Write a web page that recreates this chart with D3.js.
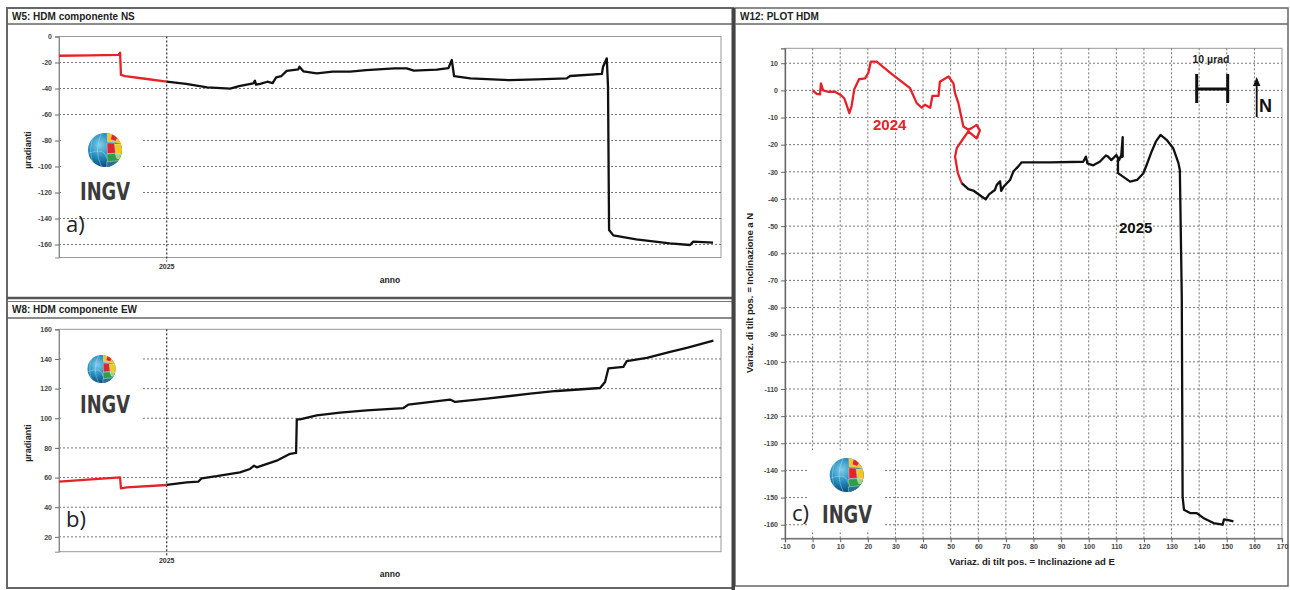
<!DOCTYPE html>
<html>
<head>
<meta charset="utf-8">
<script src="https://cdn.jsdelivr.net/npm/d3@7"></script>
<style>
  body { margin: 0; background: #fff; }
  svg text { font-family: "Liberation Sans", Arial, sans-serif; }
</style>
</head>
<body>
<svg id="chart" width="1290" height="590"></svg>
<script>
// series start: 1 Nov 2024, x values are days after that date
const T0 = new Date(2024, 10, 1)
const lastDay = 375
const yearTick = new Date(2025, 0, 1)

// W5: NS component (µrad)
const nsRed = [[0,-14.8],[17.6,-14.5],[33.6,-14.2],[34.6,-12.4],[35.1,-29.5],[37.4,-30.4],[48.7,-32.5],[61,-34.7]]
const nsBlack = [[61,-34.7],[72,-36.5],[84,-39.1],[97,-40.1],[102,-38.1],[110,-36],[111,-34],[111.6,-37],[114,-36.5],
  [118,-34.8],[121,-35.8],[123,-31.4],[126,-30.4],[129,-26.5],[135.6,-25.3],[136.2,-23.2],[138.4,-26.8],[146,-28.3],
  [155,-27],[165,-27],[174,-25.8],[190,-24.5],[197,-24.5],[201,-26.3],[214,-25.5],[220.6,-24.3],[222.5,-18.1],
  [223.8,-30.4],[233,-32.2],[255,-33.5],[271,-33],[287.6,-32.2],[289.5,-30.4],[307.5,-28.8],[308.2,-23.2],
  [310.3,-16.8],[311,-38.6],[311.6,-148.8],[314,-153],[327,-156],[346,-159.1],[357.5,-160.4],[359.2,-157.8],[370.5,-158.6]]

// W8: EW component (µrad)
const ewRed = [[0,57.2],[34.6,60.1],[35.1,52.7],[38.4,53.4],[61,55]]
const ewBlack = [[61,55],[72.4,56.8],[78.9,57.2],[80.8,59.5],[89.3,60.9],[102.5,63.5],[108.2,65.8],[110.5,68],[112,66.9],
  [123.3,71.4],[130.9,76],[134.3,76.6],[134.7,99.2],[136.5,99.2],[146,102],[159.2,103.8],[174.3,105.3],[195.1,106.9],
  [197.9,109.2],[221.5,112.6],[224.4,111],[242.3,113.2],[266.9,116.6],[282,118.4],[306.5,120.4],[309.3,124.5],
  [311.2,133.6],[319.7,134.7],[321.6,138.5],[333,140.8],[346.2,144.8],[355.6,147.5],[370.7,152.3]]

// W12: tilt vector path [E, N] (µrad)
const xy2024 = [[0,0],[1.5,-1.3],[2.7,-1.5],[3,2.6],[3.8,0],[5.6,-0.5],[8.1,-0.5],[10.3,-1.8],[11.5,-3],[12.3,-5.3],
  [13.3,-8.4],[14.1,-5.9],[15.1,0.4],[16.8,4.1],[19,4.4],[20.2,6.5],[21.1,10.6],[23.2,10.6],[28.6,6.1],[35.3,0.8],
  [37.7,-4.7],[39.5,-6.4],[40.7,-5.3],[42.6,-6.4],[43.4,-2],[45.6,-2],[46.1,3.2],[49.2,5.1],[51,2.6],[51.6,-1.1],
  [52.8,-4.7],[54.6,-13.3],[56.4,-14.5],[57.6,-13.9],[59.4,-12.7],[60.6,-14.8],[59.4,-17.7],[56.4,-15.1],[54.4,-18],
  [52.2,-21.3],[51.6,-24.4],[52.6,-30.5],[54,-34.2]]
const xy2025 = [[54,-34.2],[56.4,-36.4],[58.2,-36.9],[61.2,-39.1],[62.7,-40.1],[63.9,-38.3],[66,-36.7],[66.7,-34.8],
  [67.9,-33.5],[68.3,-37],[69.3,-35.3],[71.5,-33],[72.7,-29.9],[74.5,-28],[75.7,-26.5],[86,-26.5],[98,-26.3],[99,-24.4],
  [99.5,-26.9],[101.6,-27.6],[104,-26.3],[106.2,-24],[107,-24.4],[108.2,-25.7],[110,-23.8],[111,-25.7],[111.8,-23.8],
  [112.3,-17.2],[112.3,-24.4],[110.6,-25],[110.6,-30.5],[115,-33.6],[117.5,-33],[119.8,-30.5],[121,-27.4],[122.8,-22.5],
  [124.3,-18.9],[126,-16.4],[128.2,-18.2],[130.6,-21.3],[132.5,-26.8],[133,-29.3],[133.7,-76],[134,-149.6],[134.5,-154.5],
  [136.7,-155.7],[139.1,-155.7],[141.5,-157.5],[145.2,-159.4],[148.5,-160],[149,-158],[150.6,-158.3],[152.4,-158.8]]

const nsTicks = d3.range(-160, 1, 20)
const ewTicks = d3.range(20, 161, 20)
const eTicks = d3.range(-10, 171, 10)
const nTicks = d3.range(-160, 11, 10)

const RED = "#e5222a", BLACK = "#111"
const plain = function(d) { return String(d) }   // hyphen minus like the original

function dayToDate(d) { return new Date(T0.getTime() + d * 864e5) }

var svg = d3.select("#chart")
var defs = svg.append("defs")

// globe gradient
var grad = defs.append("radialGradient").attr("id", "globeGrad").attr("cx", "35%").attr("cy", "35%").attr("r", "70%")
grad.append("stop").attr("offset", "0%").attr("stop-color", "#7fd0ea")
grad.append("stop").attr("offset", "55%").attr("stop-color", "#1f87b9")
grad.append("stop").attr("offset", "100%").attr("stop-color", "#0a4470")

// ---------- frames ----------
var frame = svg.append("g")
frame.append("rect").attr("x", 7).attr("y", 8).attr("width", 726).attr("height", 580)
  .attr("fill", "none").attr("stroke", "#666").attr("stroke-width", 2)
frame.append("line").attr("x1", 7).attr("x2", 733).attr("y1", 24).attr("y2", 24).attr("stroke", "#666").attr("stroke-width", 1.5)
frame.append("line").attr("x1", 7).attr("x2", 733).attr("y1", 298).attr("y2", 298).attr("stroke", "#555").attr("stroke-width", 2.5)
frame.append("line").attr("x1", 7).attr("x2", 733).attr("y1", 301.5).attr("y2", 301.5).attr("stroke", "#777").attr("stroke-width", 1)
frame.append("line").attr("x1", 7).attr("x2", 733).attr("y1", 318).attr("y2", 318).attr("stroke", "#666").attr("stroke-width", 1.5)
frame.append("rect").attr("x", 735).attr("y", 8).attr("width", 553).attr("height", 578)
  .attr("fill", "none").attr("stroke", "#666").attr("stroke-width", 1.5)
frame.append("line").attr("x1", 735).attr("x2", 1288).attr("y1", 24).attr("y2", 24).attr("stroke", "#666").attr("stroke-width", 1.5)
frame.append("rect").attr("x", 731.5).attr("y", 8).attr("width", 3.5).attr("height", 582).attr("fill", "#444")

frame.append("text").attr("x", 12).attr("y", 20).text("W5: HDM componente NS")
  .style("font-size", "10px").style("font-weight", "bold").attr("fill", "#222")
frame.append("text").attr("x", 12).attr("y", 313).text("W8: HDM componente EW")
  .style("font-size", "10px").style("font-weight", "bold").attr("fill", "#222")
frame.append("text").attr("x", 740).attr("y", 20).text("W12: PLOT HDM")
  .style("font-size", "10px").style("font-weight", "bold").attr("fill", "#222")

// ---------- logo ----------
function globe(g, cx, cy, r, id) {
  defs.append("clipPath").attr("id", id).append("circle").attr("cx", cx).attr("cy", cy).attr("r", r)
  g.append("circle").attr("cx", cx).attr("cy", cy).attr("r", r).attr("fill", "url(#globeGrad)")
  var cg = g.append("g").attr("clip-path", "url(#" + id + ")")
  var patches = [
    ["#f2c81a", [[0.12,-1.1],[0.8,-1.1],[1.1,-0.35],[0.55,-0.45],[0.15,-0.5]]],
    ["#e0262c", [[0.42,-0.98],[0.78,-0.78],[0.62,-0.52],[0.32,-0.62]]],
    ["#e0262c", [[0.12,-0.42],[0.55,-0.4],[0.62,0.18],[0.14,0.22]]],
    ["#f2c81a", [[0.58,-0.35],[1.1,-0.35],[1.1,0.28],[0.64,0.2]]],
    ["#2f9e48", [[0.1,0.24],[0.68,0.2],[1.1,0.3],[1.1,1.1],[0.2,1.1]]],
    ["#9fd37a", [[0.6,0.22],[1.1,0.3],[1.1,0.55],[0.7,0.5]]],
    ["#2a6f9c", [[0.1,0.7],[1.1,0.6],[1.1,1.1],[0.1,1.1]]]
  ]
  patches.forEach(function(p) {
    cg.append("path")
      .attr("d", "M" + p[1].map(function(q) { return [cx + q[0] * r, cy + q[1] * r].join(",") }).join("L") + "Z")
      .attr("fill", p[0]).attr("stroke", "#fff").attr("stroke-width", 0.5).attr("stroke-opacity", 0.7)
  })
  // meridians on the blue part
  ;[-0.6, -0.2].forEach(function(k) {
    cg.append("path")
      .attr("d", "M" + (cx + k * r) + "," + (cy - r) + " Q" + (cx + (k - 0.5) * r) + "," + cy + " " + (cx + k * r) + "," + (cy + r))
      .attr("fill", "none").attr("stroke", "#cfefff").attr("stroke-width", 0.6).attr("stroke-opacity", 0.6)
  })
  cg.append("path").attr("d", "M" + (cx - r) + "," + (cy + 0.2 * r) + " Q" + cx + "," + (cy - 0.2 * r) + " " + (cx + 0.1 * r) + "," + (cy + 0.5 * r))
    .attr("fill", "none").attr("stroke", "#cfefff").attr("stroke-width", 0.6).attr("stroke-opacity", 0.6)
}

function ingv(g, x, y, w) {
  g.append("text").attr("x", x).attr("y", y).text("INGV")
    .attr("textLength", w).attr("lengthAdjust", "spacingAndGlyphs")
    .style("font-family", "'Liberation Sans Narrow','DejaVu Sans Condensed',sans-serif")
    .style("font-size", "25px").style("font-weight", "bold").attr("fill", "#3b3b3b")
}

function letter(g, x, y, t) {
  g.append("text").attr("x", x).attr("y", y).text(t)
    .style("font-family", "'Open Sans','DejaVu Sans',sans-serif").style("font-size", "22px").attr("fill", "#222")
}

// ---------- time panels ----------
var xT = d3.scaleTime().domain([T0, dayToDate(lastDay)]).range([59, 721])

function timePanel(opt) {
  var g = svg.append("g")
  var y = d3.scaleLinear().domain(opt.domain).range([opt.bottom, opt.top])

  g.append("rect").attr("x", 59).attr("y", opt.top).attr("width", 662).attr("height", opt.bottom - opt.top)
    .attr("fill", "#fff").attr("stroke", "#999").attr("stroke-width", 1)

  g.selectAll(".grid").data(opt.grid).enter().append("line")
    .attr("x1", 59).attr("x2", 721)
    .attr("y1", function(d) { return y(d) }).attr("y2", function(d) { return y(d) })
    .attr("stroke", "#777").attr("stroke-dasharray", "2,2").attr("stroke-width", 1)

  // white box behind logo
  g.append("rect").attr("x", opt.box[0]).attr("y", opt.box[1]).attr("width", opt.box[2]).attr("height", opt.box[3]).attr("fill", "#fff")

  var ax = g.append("g").attr("transform", "translate(59,0)")
    .call(d3.axisLeft(y).tickValues(opt.ticks).tickSize(4).tickPadding(3).tickFormat(plain))
  ax.select(".domain").attr("stroke", "#888")
  ax.selectAll(".tick line").attr("stroke", "#666")
  ax.selectAll("text").style("font-size", "7px").style("font-weight", "bold").attr("fill", "#444")
    .style("font-family", "'Liberation Sans',Arial,sans-serif")

  // year line
  g.append("line").attr("x1", xT(yearTick)).attr("x2", xT(yearTick)).attr("y1", opt.top).attr("y2", opt.bottom + 4)
    .attr("stroke", "#333").attr("stroke-dasharray", "2,2").attr("stroke-width", 1.2)
  g.append("text").attr("x", xT(yearTick)).attr("y", opt.bottom + 11).attr("text-anchor", "middle").text(d3.timeFormat("%Y")(yearTick))
    .style("font-size", "7px").style("font-weight", "bold").attr("fill", "#333")

  g.append("text").attr("x", 390).attr("y", opt.bottom + 25).attr("text-anchor", "middle").text("anno")
    .style("font-size", "8.5px").style("font-weight", "bold").attr("fill", "#222")
  g.append("text").attr("transform", "translate(31," + opt.labelY + ") rotate(-90)").attr("text-anchor", "middle").text("µradianti")
    .style("font-size", "9px").style("font-weight", "bold").attr("fill", "#222")

  var line = d3.line().x(function(d) { return xT(dayToDate(d[0])) }).y(function(d) { return y(d[1]) })
  g.append("path").datum(opt.red).attr("d", line).attr("fill", "none").attr("stroke", RED).attr("stroke-width", 2.3).attr("stroke-linejoin", "round")
  g.append("path").datum(opt.black).attr("d", line).attr("fill", "none").attr("stroke", BLACK).attr("stroke-width", 2.3).attr("stroke-linejoin", "round")

  globe(g, opt.globe[0], opt.globe[1], opt.globe[2], opt.id)
  ingv(g, 80, opt.ingvY, 50)
  letter(g, 66, opt.letterY, opt.letter)
}

timePanel({ domain: [-170, 0], top: 36.5, bottom: 257.5, ticks: nsTicks, grid: nsTicks.filter(function(d) { return d < 0 }),
  red: nsRed, black: nsBlack, box: [62, 126, 81, 80], globe: [105, 150, 17], ingvY: 200, letter: "a)", letterY: 232,
  labelY: 150, id: "clipA" })
timePanel({ domain: [10, 160], top: 329.3, bottom: 551.7, ticks: ewTicks, grid: ewTicks.filter(function(d) { return d < 160 }),
  red: ewRed, black: ewBlack, box: [62, 338, 81, 84], globe: [101.5, 369, 14], ingvY: 413, letter: "b)", letterY: 527,
  labelY: 443, id: "clipB" })

// ---------- XY plot ----------
var xE = d3.scaleLinear().domain([-10, 170]).range([785, 1282])
var yN = d3.scaleLinear().domain([-165, 15.5]).range([538.3, 48.3])
var gc = svg.append("g")

gc.append("rect").attr("x", 785).attr("y", 48.3).attr("width", 497).attr("height", 490)
  .attr("fill", "#fff").attr("stroke", "#999").attr("stroke-width", 1)
gc.selectAll(".hg").data(nTicks).enter().append("line")
  .attr("x1", 785).attr("x2", 1282).attr("y1", function(d) { return yN(d) }).attr("y2", function(d) { return yN(d) })
  .attr("stroke", "#777").attr("stroke-dasharray", "2,2")
gc.selectAll(".vg").data(eTicks.filter(function(d) { return d > -10 && d < 170 })).enter().append("line")
  .attr("y1", 48.3).attr("y2", 538.3).attr("x1", function(d) { return xE(d) }).attr("x2", function(d) { return xE(d) })
  .attr("stroke", "#777").attr("stroke-dasharray", "2,2")

gc.append("rect").attr("x", 807).attr("y", 450).attr("width", 78).attr("height", 80).attr("fill", "#fff")

var axL = gc.append("g").attr("transform", "translate(785,0)")
  .call(d3.axisLeft(yN).tickValues(nTicks).tickSize(4).tickPadding(3).tickFormat(plain))
var axB = gc.append("g").attr("transform", "translate(0,538.3)")
  .call(d3.axisBottom(xE).tickValues(eTicks).tickSize(4).tickPadding(2).tickFormat(plain))
;[axL, axB].forEach(function(a) {
  a.select(".domain").attr("stroke", "#666").attr("stroke-width", 1.3)
  a.selectAll(".tick line").attr("stroke", "#666")
  a.selectAll("text").style("font-size", "7px").style("font-weight", "bold").attr("fill", "#444")
    .style("font-family", "'Liberation Sans',Arial,sans-serif")
})

gc.append("text").attr("x", 1032).attr("y", 565).attr("text-anchor", "middle")
  .text("Variaz. di tilt pos. = Inclinazione ad E")
  .style("font-size", "9.5px").style("font-weight", "bold").attr("fill", "#222")
gc.append("text").attr("transform", "translate(753,293) rotate(-90)").attr("text-anchor", "middle")
  .text("Variaz. di tilt pos. = Inclinazione a N")
  .style("font-size", "9.5px").style("font-weight", "bold").attr("fill", "#222")

var xyLine = d3.line().x(function(d) { return xE(d[0]) }).y(function(d) { return yN(d[1]) })
gc.append("path").datum(xy2024).attr("d", xyLine).attr("fill", "none").attr("stroke", RED).attr("stroke-width", 2.3).attr("stroke-linejoin", "round")
gc.append("path").datum(xy2025).attr("d", xyLine).attr("fill", "none").attr("stroke", BLACK).attr("stroke-width", 2.3).attr("stroke-linejoin", "round")

gc.append("text").attr("x", 873).attr("y", 130).text("2024")
  .style("font-size", "15px").style("font-weight", "bold").attr("fill", RED)
gc.append("text").attr("x", 1119).attr("y", 233).text("2025")
  .style("font-size", "15px").style("font-weight", "bold").attr("fill", BLACK)

// scale bar and north arrow
gc.append("text").attr("x", 1211).attr("y", 63).attr("text-anchor", "middle").text("10 µrad")
  .style("font-size", "10.5px").style("font-weight", "bold").attr("fill", "#222")
var bar = gc.append("g").attr("stroke", BLACK).attr("stroke-width", 3)
bar.append("line").attr("x1", 1196.7).attr("x2", 1196.7).attr("y1", 74).attr("y2", 103)
bar.append("line").attr("x1", 1227.7).attr("x2", 1227.7).attr("y1", 74).attr("y2", 103)
bar.append("line").attr("x1", 1196.7).attr("x2", 1227.7).attr("y1", 89).attr("y2", 89)
gc.append("line").attr("x1", 1256.7).attr("x2", 1256.7).attr("y1", 117).attr("y2", 84).attr("stroke", BLACK).attr("stroke-width", 1.8)
gc.append("path").attr("d", "M1256.7,77 L1253,86 L1260.4,86 Z").attr("fill", BLACK)
gc.append("text").attr("x", 1259).attr("y", 112).text("N")
  .style("font-size", "18px").style("font-weight", "bold").attr("fill", BLACK)

globe(gc, 846.7, 475, 17, "clipC")
ingv(gc, 822, 523, 50)
letter(gc, 792, 521, "c)")
</script>
</body>
</html>
